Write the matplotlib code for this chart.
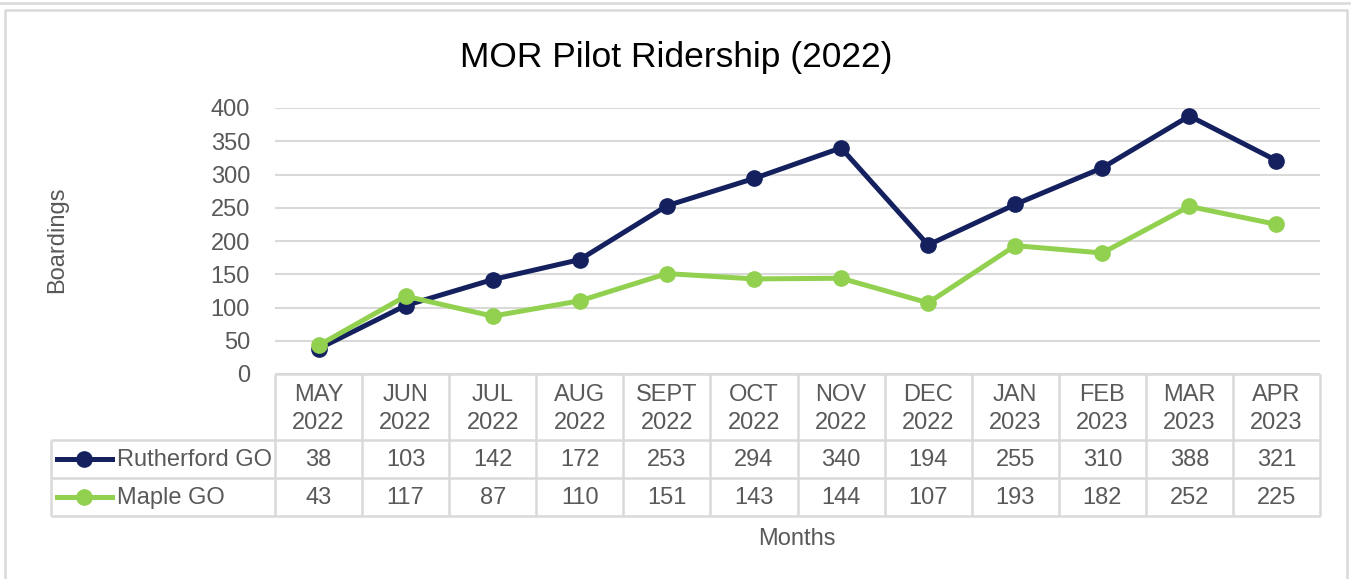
import matplotlib
matplotlib.use("Agg")
import matplotlib.pyplot as plt
from matplotlib import font_manager

months = ["MAY\n2022", "JUN\n2022", "JUL\n2022", "AUG\n2022", "SEPT\n2022", "OCT\n2022",
          "NOV\n2022", "DEC\n2022", "JAN\n2023", "FEB\n2023", "MAR\n2023", "APR\n2023"]
rutherford = [38, 103, 142, 172, 253, 294, 340, 194, 255, 310, 388, 321]
maple = [43, 117, 87, 110, 151, 143, 144, 107, 193, 182, 252, 225]
series_names = ["Rutherford GO", "Maple GO"]
yticks = [0, 50, 100, 150, 200, 250, 300, 350, 400]

navy = "#14215E"
green = "#92D050"
text_c = "#595959"
grid_c = "#D9D9D9"

names = {f.name for f in font_manager.fontManager.ttflist}
narrow = "Liberation Sans Narrow" if "Liberation Sans Narrow" in names else "Liberation Sans"
plt.rcParams["font.family"] = "Liberation Sans"

W, H = 1351, 579
fig = plt.figure(figsize=(W / 100, H / 100), dpi=100)

def box(x0, y0, x1, y1):
    # pixel box (top-left origin) -> figure fraction rect
    return [x0 / W, 1 - y1 / H, (x1 - x0) / W, (y1 - y0) / H]

# frame around the chart
frame = fig.add_axes([0, 0, 1, 1])
frame.set_xlim(0, W)
frame.set_ylim(H, 0)
frame.axis("off")
frame.plot([5, 5, 1347, 1347], [H + 5, 10, 10, H + 5], color=grid_c, lw=1.8)
frame.plot([0, W], [3, 3], color=grid_c, lw=1.8)

ax = fig.add_axes(box(275, 108, 1320, 374))
x = list(range(len(months)))
ax.plot(x, rutherford, color=navy, lw=3.6, marker="o", ms=11, zorder=3)
ax.plot(x, maple, color=green, lw=3.6, marker="o", ms=11, zorder=3)
ax.set_xlim(-0.5, len(months) - 0.5)
ax.set_ylim(0, 400)
ax.set_yticks(yticks)
ax.set_xticks([])
ax.tick_params(axis="y", length=0, pad=18, labelsize=17, labelcolor=text_c)
for lab in ax.get_yticklabels():
    lab.set_fontfamily(narrow)
ax.grid(axis="y", color=grid_c, lw=1.5)
for s in ["top", "right", "left", "bottom"]:
    ax.spines[s].set_visible(False)

fig.text(676 / W, 1 - 57 / H, "MOR Pilot Ridership (2022)", ha="center", va="center",
         fontsize=25.5, color="#000000")

# data table below, sharing the category axis
tb = fig.add_axes(box(275, 374, 1320, 516), sharex=ax)
tb.set_ylim(516, 374)
tb.axis("off")
n = len(months)
left = -3.07
lkw = dict(color=grid_c, lw=1.8, clip_on=False, solid_capstyle="butt")
for i in range(n + 1):
    tb.plot([i - 0.5, i - 0.5], [374, 516], **lkw)
tb.plot([left, left], [440, 516], **lkw)
tb.plot([-0.5, n - 0.5], [374, 374], **lkw)
for yy in [440, 478, 516]:
    tb.plot([left, n - 0.5], [yy, yy], **lkw)
for i, m in enumerate(months):
    tb.text(i, 409, m, ha="center", va="center", fontsize=17, color=text_c,
            family=narrow, linespacing=1.4)
for vals, yy, col, name in [(rutherford, 460, navy, series_names[0]),
                            (maple, 498, green, series_names[1])]:
    for i, v in enumerate(vals):
        tb.text(i, yy, str(v), ha="center", va="center", fontsize=17,
                color=text_c, family=narrow)
    tb.plot([-3.0, -2.37], [yy - 1, yy - 1], color=col, lw=3.6, clip_on=False)
    tb.plot([-2.69], [yy - 1], color=col, marker="o", ms=11, clip_on=False)
    tb.text(-2.31, yy, name, ha="left", va="center", fontsize=17,
            color=text_c, family=narrow)

fig.text(797 / W, 1 - 539 / H, "Months", ha="center", va="center",
         fontsize=17, color=text_c, family=narrow)
fig.text(57 / W, 1 - 240 / H, "Boardings", ha="center", va="center",
         fontsize=17, color=text_c, family=narrow, rotation=90)

fig.savefig("out.png", dpi=100)
